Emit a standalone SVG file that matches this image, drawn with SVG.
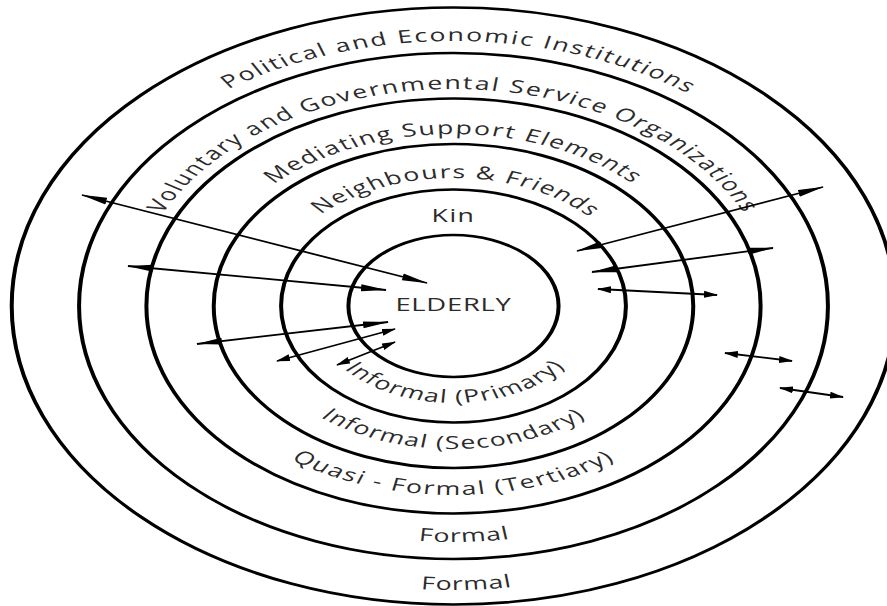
<svg xmlns="http://www.w3.org/2000/svg" width="887" height="606" viewBox="0 0 887 606">
<style>
.ring{fill:none;stroke:#000;stroke-width:2.7}
.lbl{font-family:"Open Sans","DejaVu Sans",sans-serif;font-size:18px;fill:#2b2b2b;text-anchor:middle;letter-spacing:1px}
.arr{stroke:#000;stroke-width:1.8;fill:none}
.big{marker-start:url(#hb);marker-end:url(#hb)}
.sm{marker-start:url(#hs);marker-end:url(#hs)}
</style>
<defs>
<marker id="hb" markerUnits="userSpaceOnUse" markerWidth="26" markerHeight="8" viewBox="0 0 26 8" refX="25" refY="4" orient="auto-start-reverse"><path d="M0,0.5 L26,4 L0,7.5 Z" fill="#000"/></marker>
<marker id="hs" markerUnits="userSpaceOnUse" markerWidth="14" markerHeight="8" viewBox="0 0 14 8" refX="13" refY="4" orient="auto-start-reverse"><path d="M0,0.5 L14,4 L0,7.5 Z" fill="#000"/></marker>
<path id="t1" d="M-128,0 A128,128 0 0 1 128,0"/>
<path id="t2" d="M-172,0 A172,172 0 0 1 172,0"/>
<path id="t3" d="M-217,0 A217,217 0 0 1 217,0"/>
<path id="t4" d="M-265,0 A265,265 0 0 1 265,0"/>
<path id="b1" d="M-97,0 A97,97 0 0 0 97,0"/>
<path id="b2" d="M-143,0 A143,143 0 0 0 143,0"/>
<path id="b3" d="M-189,0 A189,189 0 0 0 189,0"/>
<path id="b4" d="M-236,0 A236,236 0 0 0 236,0"/>
<path id="b5" d="M-284,0 A284,284 0 0 0 284,0"/>
</defs>
<rect width="887" height="606" fill="#fff"/>
<g transform="translate(453.5,306) scale(1.48,1)">
<g id="elderly"><circle class="ring" r="71"/><text class="lbl" x="0" y="5" style="font-size:18.5px;letter-spacing:0.5px">ELDERLY</text></g>
<g id="kin"><circle class="ring" r="116.5"/><text class="lbl" x="0" y="-84">Kin</text><text class="lbl" style="letter-spacing:1px"><textPath href="#b1" startOffset="50.5%">Informal (Primary)</textPath></text></g>
<g id="neighbours"><circle class="ring" r="162"/><text class="lbl" style="letter-spacing:1px"><textPath href="#t1" startOffset="50.5%">Neighbours &amp; Friends</textPath></text><text class="lbl" style="letter-spacing:1px"><textPath href="#b2" startOffset="50%">Informal (Secondary)</textPath></text></g>
<g id="mediating"><circle class="ring" r="207.5"/><text class="lbl" style="letter-spacing:1.2px"><textPath href="#t2" startOffset="50%">Mediating Support Elements</textPath></text><text class="lbl" style="letter-spacing:1.3px"><textPath href="#b3" startOffset="50%">Quasi - Formal (Tertiary)</textPath></text></g>
<g id="voluntary"><circle class="ring" r="253"/><text class="lbl" style="letter-spacing:1.3px"><textPath href="#t3" startOffset="50%">Voluntary and Governmental Service Organizations</textPath></text><text class="lbl" style="letter-spacing:0.6px"><textPath href="#b4" startOffset="51%">Formal</textPath></text></g>
<g id="political"><circle class="ring" r="298.5"/><text class="lbl" style="letter-spacing:1.3px"><textPath href="#t4" startOffset="50.5%">Political and Economic Institutions</textPath></text><text class="lbl" style="letter-spacing:0.6px"><textPath href="#b5" startOffset="51%">Formal</textPath></text></g>
</g>
<g id="connectors">
<line class="arr big" x1="82" y1="195" x2="427" y2="283"/>
<line class="arr big" x1="128" y1="266" x2="386" y2="290"/>
<line class="arr big" x1="197" y1="344" x2="388" y2="322"/>
<line class="arr sm" x1="277" y1="361" x2="395" y2="329"/>
<line class="arr sm" x1="337" y1="365" x2="395" y2="342"/>
<line class="arr big" x1="577" y1="251" x2="823" y2="187"/>
<line class="arr big" x1="592" y1="272" x2="773" y2="248"/>
<line class="arr sm" x1="598" y1="289" x2="717" y2="295"/>
<line class="arr sm" x1="725" y1="353" x2="792" y2="361"/>
<line class="arr sm" x1="780" y1="388" x2="843" y2="397"/>
</g>
</svg>
